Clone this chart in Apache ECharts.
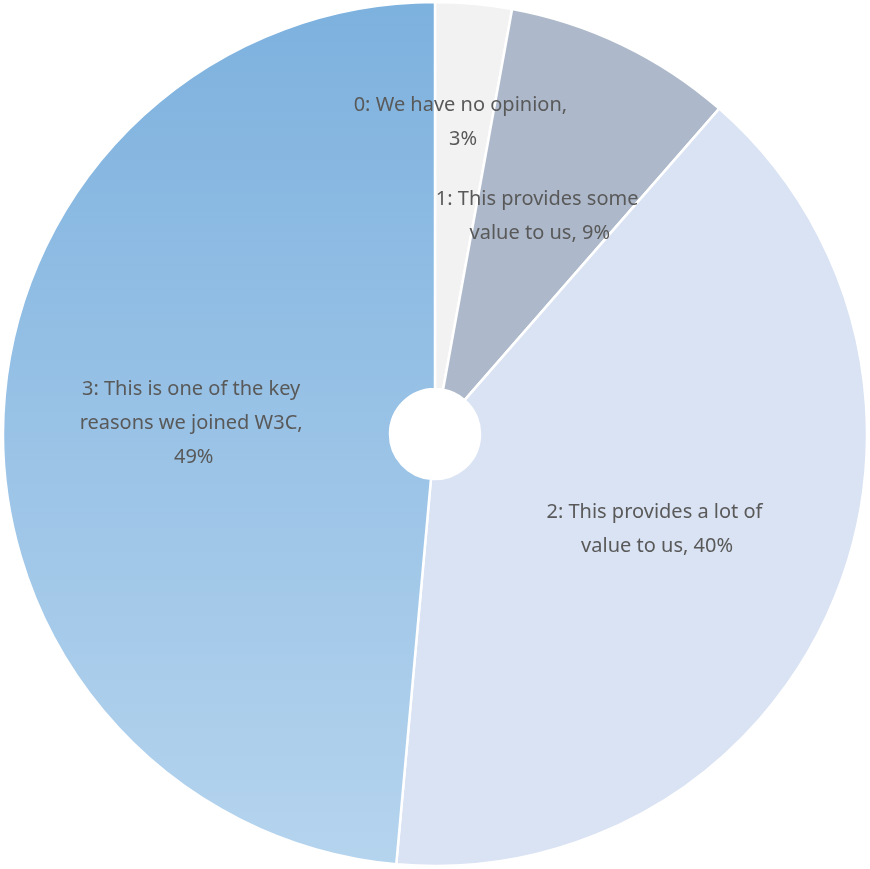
<!DOCTYPE html>
<html>
<head>
<meta charset="utf-8">
<script src="https://cdn.jsdelivr.net/npm/echarts@6/dist/echarts.min.js"></script>
<style>
  html, body { margin: 0; padding: 0; background: #ffffff; }
  #chart { width: 870px; height: 869px; }
</style>
</head>
<body>
<div id="chart"></div>
<script>
// Survey responses: how much value members get from this activity
const categories = [
  'We have no opinion',
  'This provides some value to us',
  'This provides a lot of value to us',
  'This is one of the key reasons we joined W3C'
];
const counts = [1, 3, 14, 17];

const sliceColors = [
  '#f2f2f2',
  '#adb9ca',
  '#dae3f3',
  new echarts.graphic.LinearGradient(0, 0, 0, 1, [
    { offset: 0, color: '#7db1de' },
    { offset: 1, color: '#b5d4ee' }
  ])
];

const total = counts.reduce((a, b) => a + b, 0);

// Mid-angle (radians, clockwise from 12 o'clock) of each slice
const midAngles = [];
let acc = 0;
counts.forEach(v => {
  midAngles.push((acc + v / 2) / total * Math.PI * 2);
  acc += v;
});

const chart = echarts.init(document.getElementById('chart'), null, { renderer: 'canvas' });

chart.setOption({
  animation: false,
  series: [{
    type: 'pie',
    center: [435, 434],
    radius: [45, 432],
    startAngle: 90,
    clockwise: true,
    avoidLabelOverlap: false,
    itemStyle: { borderColor: '#ffffff', borderWidth: 2.5 },
    label: {
      show: true,
      position: 'inside',
      color: '#595959',
      fontSize: 20,
      lineHeight: 34,
      fontFamily: '"Noto Sans", "Open Sans", sans-serif',
      width: 236,
      overflow: 'break',
      align: 'center',
      formatter: p => p.dataIndex + ': ' + p.name + ', ' + Math.round(p.percent) + '%'
    },
    labelLayout: params => {
      // the smallest slice's label is pushed outward along its bisector
      if (params.dataIndex === 0) {
        const a = midAngles[0];
        const shift = 71;
        return { dx: Math.sin(a) * shift, dy: -Math.cos(a) * shift };
      }
      return {};
    },
    labelLine: { show: false },
    emphasis: { disabled: true },
    data: categories.map((name, i) => ({
      name: name,
      value: counts[i],
      itemStyle: { color: sliceColors[i] }
    }))
  }]
});
</script>
</body>
</html>
